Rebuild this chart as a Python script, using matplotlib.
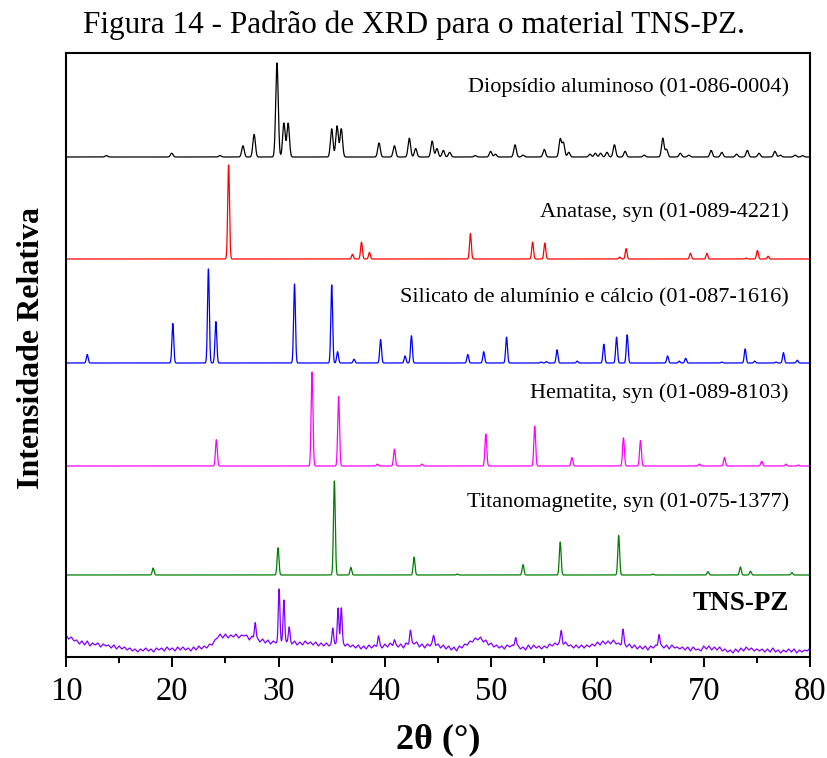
import numpy as np
import matplotlib
matplotlib.use("Agg")
import matplotlib.pyplot as plt

# ---------------- data ----------------
title = "Figura 14 - Padrão de XRD para o material TNS-PZ."
x_label = "2θ (°)"
y_label = "Intensidade Relativa"
x_ticks = [10, 20, 30, 40, 50, 60, 70, 80]

labels = ["Diopsídio aluminoso (01-086-0004)",
          "Anatase, syn (01-089-4221)",
          "Silicato de alumínio e cálcio (01-087-1616)",
          "Hematita, syn (01-089-8103)",
          "Titanomagnetite, syn (01-075-1377)",
          "TNS-PZ"]

# reference patterns: peak position (2theta) and relative intensity (%)
diop_pos = [13.8, 19.95, 24.5, 26.65, 27.7, 29.85, 30.5, 30.9, 35.0, 35.5, 35.9,
            39.45, 40.9, 42.3, 42.9, 44.45, 44.9, 45.5, 46.1, 48.5, 49.95, 50.4,
            52.25, 53.0, 55.0, 56.5, 56.8, 57.3, 59.3, 59.8, 60.3, 60.9, 61.6,
            62.6, 64.4, 66.15, 66.5, 67.8, 68.6, 70.7, 71.7, 73.1, 74.1, 75.2,
            76.7, 77.2, 78.6, 79.3]
diop_int = [1.5, 4, 1.5, 12, 24, 100, 36, 36, 30, 33, 30,
            15, 12, 20, 9, 17, 9, 7, 5, 1.5, 6, 3,
            13, 2, 8, 19, 15, 5, 3, 4, 4, 5, 13,
            6, 2, 20, 8, 4, 2, 7, 5, 3, 7, 4,
            6, 2, 2, 1.5]

anat_pos = [25.3, 36.95, 37.8, 38.55, 48.05, 53.9, 55.05, 62.1, 62.7, 68.75,
            70.3, 74.0, 75.05, 76.05]
anat_int = [100, 5, 18, 7, 27, 18, 17, 2, 11, 6, 6, 1, 9, 3]

sil_pos = [12.0, 20.05, 23.4, 24.1, 31.5, 35.0, 35.55, 37.1, 39.6, 41.9, 42.5,
           47.8, 49.3, 51.45, 54.7, 55.2, 56.2, 58.1, 60.6, 61.8, 62.8, 66.6,
           67.7, 68.3, 71.7, 73.9, 74.8, 76.8, 77.5, 78.8]
sil_int = [9, 42, 100, 44, 84, 83, 12, 4, 25, 7.5, 29,
           9, 12, 27.5, 1, 1.5, 14, 2, 20, 27.5, 30, 7.5,
           2, 5, 1, 15, 2, 1, 11, 3]

hem_pos = [24.15, 33.15, 35.65, 39.3, 40.9, 43.5, 49.5, 54.1, 57.6, 62.45,
           64.05, 69.6, 71.95, 75.45, 77.75, 78.9]
hem_int = [28, 100, 74, 2, 18, 2, 34, 42.5, 9, 30, 27, 2, 9, 5, 2, 1]

tim_pos = [18.2, 29.95, 35.25, 36.8, 42.75, 46.8, 53.0, 56.5, 62.0, 65.2,
           70.4, 73.45, 74.4, 78.3]
tim_int = [7.4, 29, 100, 8, 19, 1, 11, 35, 42, 1, 3.5, 8.5, 4, 2.5]

# measured TNS-PZ pattern: noisy background trace every 0.25 deg (10 -> 80) ...
tns_bg_x = [10 + 0.25 * i for i in range(281)]
tns_bg_y = [22, 18, 20, 16, 17, 13, 16, 12, 16, 11, 14, 12, 14, 10, 13, 11,
            12, 9, 12, 8, 11, 8, 10, 7, 9, 6, 8, 5, 8, 6, 9, 6,
            8, 5, 9, 7, 9, 6, 10, 7, 9, 6, 10, 7, 10, 7, 9, 6,
            10, 7, 11, 8, 11, 9, 13, 12, 17, 19, 23, 19, 23, 19, 22, 20,
            23, 19, 22, 21, 22, 17, 21, 17, 19, 15, 18, 14, 17, 13, 16, 14,
            15, 15, 15, 15, 16, 13, 16, 12, 15, 12, 16, 13, 15, 12, 15, 11,
            14, 11, 14, 11, 13, 13, 13, 13, 15, 11, 13, 10, 12, 9, 12, 8,
            11, 8, 12, 9, 12, 10, 12, 9, 13, 10, 14, 11, 13, 10, 13, 9,
            14, 12, 15, 13, 15, 10, 13, 9, 13, 11, 15, 11, 13, 9, 12, 8,
            11, 7, 10, 6, 11, 9, 13, 12, 16, 15, 19, 17, 20, 15, 17, 12,
            14, 10, 12, 9, 11, 8, 12, 10, 12, 10, 12, 8, 10, 7, 12, 8,
            12, 9, 11, 8, 11, 9, 13, 11, 14, 12, 16, 12, 15, 11, 12, 9,
            12, 9, 12, 9, 12, 10, 13, 11, 15, 12, 16, 13, 16, 13, 17, 13,
            14, 11, 14, 10, 13, 9, 12, 8, 11, 8, 11, 7, 11, 9, 12, 10,
            12, 9, 12, 8, 12, 9, 10, 8, 10, 7, 10, 6, 10, 7, 8, 6,
            11, 8, 11, 7, 10, 7, 10, 6, 8, 5, 7, 4, 8, 5, 9, 6,
            10, 7, 9, 6, 8, 6, 8, 5, 8, 5, 9, 5, 7, 4, 7, 5,
            8, 5, 8, 4, 7, 5, 7, 6, 9]
# ... plus its sharp reflections (position, height above background)
tns_pk_pos = [27.8, 30.05, 30.5, 31.0, 35.1, 35.6, 35.9, 39.4, 40.9, 42.4,
              44.6, 52.3, 56.6, 62.4, 65.8]
tns_pk_int = [17, 53, 42, 14, 16, 36, 35, 10, 5, 13, 8, 9, 12, 15, 12]

# ---------------- style / layout ----------------
colors = ["black", "#ff0000", "#0000ff", "#ff00ff", "#008000", "#8000ff"]
offsets = [500, 398, 294, 191, 82]        # vertical shifts of the stacked patterns
label_y = [570, 445, 359, 264, 155, 54]
peak_scale = 0.94
fwhm = [0.28, 0.2, 0.2, 0.2, 0.2]

serif = ["Liberation Serif", "DejaVu Serif"]
plt.rcParams["font.family"] = serif

fig = plt.figure(figsize=(8.27, 7.58), dpi=100)
ax = fig.add_axes([66 / 827, 1 - 657 / 758, 744 / 827, 604 / 758])

xx = np.arange(10, 80.0001, 0.01)


def profile(pos, inten, w):
    y = np.zeros_like(xx)
    for p, i in zip(pos, inten):
        y += i * np.exp(-4 * np.log(2) * (xx - p) ** 2 / w ** 2)
    return y


refs = [(diop_pos, diop_int), (anat_pos, anat_int), (sil_pos, sil_int),
        (hem_pos, hem_int), (tim_pos, tim_int)]
for k, (pos, inten) in enumerate(refs):
    ax.plot(xx, offsets[k] + peak_scale * profile(pos, inten, fwhm[k]),
            color=colors[k], lw=0.9)

tns = np.interp(xx, tns_bg_x, tns_bg_y) + profile(tns_pk_pos, tns_pk_int, 0.18)
ax.plot(xx, tns, color=colors[5], lw=0.9)

for k, lab in enumerate(labels):
    if k < 5:
        ax.text(78.0, label_y[k], lab, ha="right", va="center", fontsize=16,
                color="black")
    else:
        ax.text(78.0, label_y[k], lab, ha="right", va="center", fontsize=19.5,
                fontweight="bold", color="black")

ax.set_xlim(10, 80)
ax.set_ylim(0, 604)
ax.set_xticks(x_ticks)
ax.set_xticks(np.arange(15, 80, 10), minor=True)
ax.set_yticks([])
ax.tick_params(axis="x", which="major", direction="out", length=7, width=1.4,
               labelsize=23.5, pad=7)
ax.tick_params(axis="x", which="minor", direction="out", length=4, width=1.4)
for s in ax.spines.values():
    s.set_linewidth(1.5)

fig.text(414 / 827, 1 - 33 / 758, title, ha="center", va="baseline",
         fontsize=22.5)
fig.text(32 / 827, 1 - 348 / 758, y_label, ha="center", va="center",
         rotation=90, fontsize=23, fontweight="bold")
fig.text(438 / 827, 1 - 740 / 758, x_label, ha="center", va="center",
         fontsize=26, fontweight="bold")

fig.savefig("out.png", dpi=100)
